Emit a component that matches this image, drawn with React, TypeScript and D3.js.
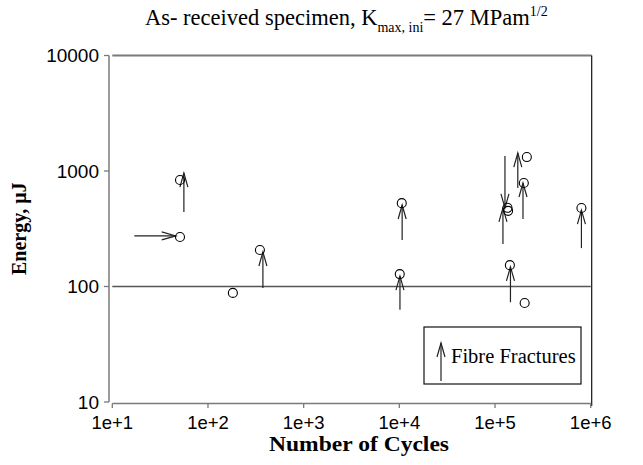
import React from "react";
import * as d3 from "d3";

// Data: [cycles, energy µJ]
const circleCycles = [51, 51, 182, 349, 10600, 10100, 143000, 204000, 135000, 137000, 200000, 215000, 800000];
const circleEnergy = [836, 268, 88, 207, 527, 128, 153, 72, 480, 452, 787, 1320, 478];

// vertical arrows: cycles, energy from, energy to
const vArrowCycles = [56, 375, 10700, 10150, 145000, 127000, 121000, 196000, 173000, 800000];
const vArrowFrom = [442, 97, 253, 63, 73, 1350, 233, 384, 713, 215];
const vArrowTo = [960, 199, 508, 123, 148, 479, 479, 787, 1430, 459];

// horizontal arrows: energy, cycles from, cycles to
const hArrowEnergy = [274];
const hArrowFrom = [17];
const hArrowTo = [46];

const xTicks = [1e1, 1e2, 1e3, 1e4, 1e5, 1e6];
const xTickLabels = ["1e+1", "1e+2", "1e+3", "1e+4", "1e+5", "1e+6"];
const yTicks = [10, 100, 1000, 10000];
const yTickLabels = ["10", "100", "1000", "10000"];
const refLine = 100;

const W = 643;
const H = 465;
const L = 112.3;
const R = 590.7;
const T = 55.5;
const B = 402;

const AXIS = "#7a7a7a";
const SANS = "'Liberation Sans', Arial, Helvetica, sans-serif";
const SERIF = "'Liberation Serif', 'Times New Roman', Times, serif";

function Arrow({ x1, y1, x2, y2 }: { x1: number; y1: number; x2: number; y2: number }) {
  const dx = x2 - x1;
  const dy = y2 - y1;
  const len = Math.sqrt(dx * dx + dy * dy);
  const ux = dx / len;
  const uy = dy / len;
  const hl = 14;
  const hw = 4;
  const bx = x2 - ux * hl;
  const by = y2 - uy * hl;
  const px = -uy * hw;
  const py = ux * hw;
  return (
    <g stroke="#222" strokeWidth={1.2} fill="none">
      <line x1={x1} y1={y1} x2={x2} y2={y2} />
      <polyline points={`${bx + px},${by + py} ${x2},${y2} ${bx - px},${by - py}`} />
    </g>
  );
}

export default function App() {
  const x = d3.scaleLog().domain([10, 1e6]).range([L, R]);
  const y = d3.scaleLog().domain([10, 10000]).range([B, T]);

  return (
    <svg width={W} height={H} style={{ position: "absolute", left: 0, top: 0, background: "#fff" }}>
      {/* Title */}
      <text x={145} y={25} fontFamily={SERIF} fontSize={22.5} fill="#000">
        As- received specimen, K
        <tspan fontSize={14} dy={7}>max, ini</tspan>
        <tspan dy={-7}>= 27 MPam</tspan>
        <tspan fontSize={14} dy={-9}>1/2</tspan>
      </text>

      {/* plot frame */}
      <line x1={L} x2={R + 1} y1={T} y2={T} stroke={AXIS} strokeWidth={1.8} />
      <line x1={R + 1} x2={R + 1} y1={T} y2={B + 4} stroke="#111" strokeWidth={1.2} />
      {/* y axis */}
      <line x1={109} x2={109} y1={T} y2={B} stroke={AXIS} strokeWidth={1.5} />
      {yTicks.map((t, i) => (
        <g key={"yt" + i}>
          <line x1={104} x2={109} y1={y(t)} y2={y(t)} stroke={AXIS} strokeWidth={1.3} />
          <text x={99} y={y(t)} dy="0.35em" textAnchor="end" fontFamily={SANS} fontSize={19} fill="#000">
            {yTickLabels[i]}
          </text>
        </g>
      ))}
      {/* x axis */}
      <line x1={L} x2={R} y1={B + 1.5} y2={B + 1.5} stroke={AXIS} strokeWidth={1.5} />
      {xTicks.map((t, i) => (
        <g key={"xt" + i}>
          <line x1={x(t)} x2={x(t)} y1={B + 1.5} y2={B + 6} stroke={AXIS} strokeWidth={1.3} />
          <text x={x(t)} y={429} textAnchor="middle" fontFamily={SANS} fontSize={18.5} fill="#000">
            {xTickLabels[i]}
          </text>
        </g>
      ))}

      {/* reference line */}
      <line x1={L} x2={R} y1={y(refLine)} y2={y(refLine)} stroke="#555" strokeWidth={1.3} />

      {/* arrows */}
      {vArrowCycles.map((c, i) => (
        <Arrow key={"va" + i} x1={x(c)} y1={y(vArrowFrom[i])} x2={x(c)} y2={y(vArrowTo[i])} />
      ))}
      {hArrowEnergy.map((e, i) => (
        <Arrow key={"ha" + i} x1={x(hArrowFrom[i])} y1={y(e)} x2={x(hArrowTo[i])} y2={y(e)} />
      ))}

      {/* circles */}
      {circleCycles.map((c, i) => (
        <circle key={"c" + i} cx={x(c)} cy={y(circleEnergy[i])} r={4.5} fill="none" stroke="#000" strokeWidth={1.1} />
      ))}

      {/* legend */}
      <rect x={424} y={327} width={157} height={57} fill="#fff" stroke="#111" strokeWidth={1.2} />
      <Arrow x1={441} y1={381} x2={441} y2={343} />
      <text x={451} y={363} fontFamily={SERIF} fontSize={20.5} fill="#000">
        Fibre Fractures
      </text>

      {/* axis titles */}
      <text x={359} y={451} textAnchor="middle" fontFamily={SERIF} fontWeight="bold" fontSize={21} textLength={180} lengthAdjust="spacingAndGlyphs" fill="#000">
        Number of Cycles
      </text>
      <text
        transform={`translate(26, ${(T + B) / 2}) rotate(-90)`}
        textAnchor="middle"
        fontFamily={SERIF}
        fontWeight="bold"
        fontSize={20}
        fill="#000"
      >
        Energy, μJ
      </text>
    </svg>
  );
}
